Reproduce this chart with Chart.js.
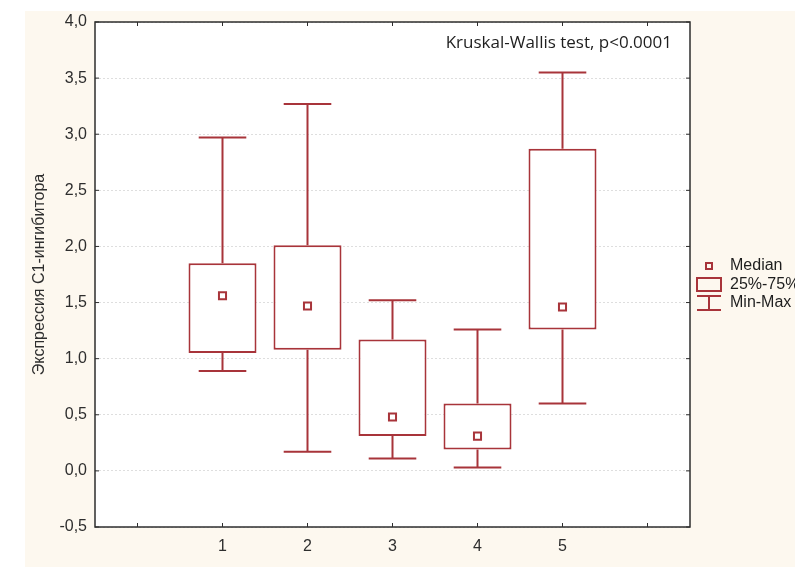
<!DOCTYPE html>
<html>
<head>
<meta charset="utf-8">
<script src="https://cdn.jsdelivr.net/npm/chart.js@4"></script>
<style>
  html, body { margin: 0; padding: 0; background: #ffffff; }
  #wrap { position: relative; width: 795px; height: 567px; }
</style>
</head>
<body>
<div id="wrap"><canvas id="box-chart" width="795" height="567"></canvas></div>
<script>
// Box plot data
const groups = ["1", "2", "3", "4", "5"];
const mins = [0.89, 0.17, 0.11, 0.03, 0.60];
const q1s = [1.05, 1.08, 0.31, 0.19, 1.26];
const medians = [1.56, 1.47, 0.48, 0.31, 1.46];
const q3s = [1.85, 2.01, 1.17, 0.60, 2.87];
const maxs = [2.97, 3.27, 1.52, 1.26, 3.55];

const yTitle = "Экспрессия С1-ингибитора";
const note = "Kruskal-Wallis test, p<0.0001";
const legendItems = ["Median", "25%-75%", "Min-Max"];

const RED = "#a8343a";
const AXIS = "#2e2e2e";
const FONT = "'Liberation Sans', Arial, sans-serif";

// empty category on each side, like the original frame
const labels = [""].concat(groups, [""]);
const boxData = [null].concat(groups.map((g, i) => [q1s[i], q3s[i]]), [null]);
const medianData = [null].concat(medians, [null]);

// background, plot area, whiskers, frame, inner ticks, legend, note
const decor = {
  id: "decor",
  beforeDraw(chart) {
    const { ctx, chartArea: a } = chart;
    ctx.save();
    ctx.fillStyle = "#ffffff";
    ctx.fillRect(0, 0, chart.width, chart.height);
    ctx.fillStyle = "#fdf8ef";
    ctx.fillRect(25, 11, chart.width - 25, chart.height - 11);
    ctx.fillStyle = "#ffffff";
    ctx.fillRect(a.left, a.top, a.right - a.left, a.bottom - a.top);
    ctx.restore();
  },
  beforeDatasetsDraw(chart) {
    const { ctx, scales } = chart;
    const x = scales.x, y = scales.y;
    const half = (x.getPixelForValue(1) - x.getPixelForValue(0)) * 0.28;
    ctx.save();
    ctx.strokeStyle = RED;
    ctx.lineWidth = 2;
    groups.forEach((g, i) => {
      const px = x.getPixelForValue(i + 1);
      ctx.beginPath();
      ctx.moveTo(px, y.getPixelForValue(maxs[i]));
      ctx.lineTo(px, y.getPixelForValue(q3s[i]));
      ctx.moveTo(px, y.getPixelForValue(q1s[i]));
      ctx.lineTo(px, y.getPixelForValue(mins[i]));
      ctx.moveTo(px - half, y.getPixelForValue(maxs[i]));
      ctx.lineTo(px + half, y.getPixelForValue(maxs[i]));
      ctx.moveTo(px - half, y.getPixelForValue(mins[i]));
      ctx.lineTo(px + half, y.getPixelForValue(mins[i]));
      ctx.stroke();
    });
    ctx.restore();
  },
  afterDraw(chart) {
    const { ctx, chartArea: a, scales } = chart;
    const x = scales.x, y = scales.y;
    ctx.save();

    // frame
    ctx.strokeStyle = AXIS;
    ctx.lineWidth = 1.5;
    ctx.strokeRect(a.left, a.top, a.right - a.left, a.bottom - a.top);

    // inward tick marks on all four sides
    ctx.lineWidth = 1;
    ctx.beginPath();
    labels.forEach((l, i) => {
      const px = x.getPixelForValue(i);
      ctx.moveTo(px, a.top); ctx.lineTo(px, a.top + 4);
      ctx.moveTo(px, a.bottom); ctx.lineTo(px, a.bottom - 4);
    });
    y.ticks.forEach(t => {
      const py = y.getPixelForValue(t.value);
      ctx.moveTo(a.left, py); ctx.lineTo(a.left + 4, py);
      ctx.moveTo(a.right, py); ctx.lineTo(a.right - 4, py);
    });
    ctx.stroke();

    // note
    ctx.fillStyle = "#1e1e1e";
    ctx.font = "17px 'Open Sans', sans-serif";
    ctx.textAlign = "right";
    ctx.textBaseline = "middle";
    ctx.fillText(note, 672, 43);

    // legend
    ctx.strokeStyle = RED;
    ctx.lineWidth = 2;
    ctx.strokeRect(706, 263, 6, 6);
    ctx.strokeRect(697, 278, 24, 13);
    ctx.beginPath();
    ctx.moveTo(697, 296); ctx.lineTo(721, 296);
    ctx.moveTo(709, 296); ctx.lineTo(709, 310);
    ctx.moveTo(697, 310); ctx.lineTo(721, 310);
    ctx.stroke();
    ctx.fillStyle = "#1e1e1e";
    ctx.font = "16px " + FONT;
    ctx.textAlign = "left";
    legendItems.forEach((txt, i) => {
      ctx.fillText(txt, 730, 266 + i * 18.5);
    });
    ctx.restore();
  }
};

new Chart(document.getElementById("box-chart").getContext("2d"), {
  type: "bar",
  data: {
    labels: labels,
    datasets: [
      {
        label: "25%-75%",
        data: boxData,
        backgroundColor: "#ffffff",
        borderColor: RED,
        borderWidth: 2,
        borderSkipped: false,
        barPercentage: 0.8,
        categoryPercentage: 1.0,
        order: 2
      },
      {
        type: "line",
        label: "Median",
        data: medianData,
        showLine: false,
        pointStyle: "rect",
        pointRadius: 5,
        pointBorderWidth: 2,
        pointBackgroundColor: "#ffffff",
        pointBorderColor: RED,
        order: 1
      }
    ]
  },
  options: {
    responsive: false,
    animation: false,
    layout: { padding: { left: 0, top: 22, right: 105, bottom: 0 } },
    plugins: {
      legend: { display: false },
      tooltip: { enabled: false }
    },
    scales: {
      x: {
        offset: true,
        grid: { display: false, drawTicks: false },
        border: { display: false },
        ticks: {
          color: AXIS,
          font: { family: FONT, size: 16 },
          padding: 10,
          autoSkip: false,
          maxRotation: 0
        },
        afterFit(scale) { scale.height = 40; }
      },
      y: {
        min: -0.5,
        max: 4.0,
        grid: {
          color: "#dedede",
          lineWidth: 1,
          drawTicks: false
        },
        border: { display: false, dash: [2, 2] },
        ticks: {
          stepSize: 0.5,
          color: AXIS,
          font: { family: FONT, size: 16 },
          padding: 8,
          callback: v => v.toFixed(1).replace(".", ",")
        },
        title: {
          display: true,
          text: yTitle,
          color: AXIS,
          font: { family: FONT, size: 16 },
          padding: { top: 30, bottom: 0 }
        },
        afterFit(scale) { scale.width = 95; }
      }
    }
  },
  plugins: [decor]
});
</script>
</body>
</html>
